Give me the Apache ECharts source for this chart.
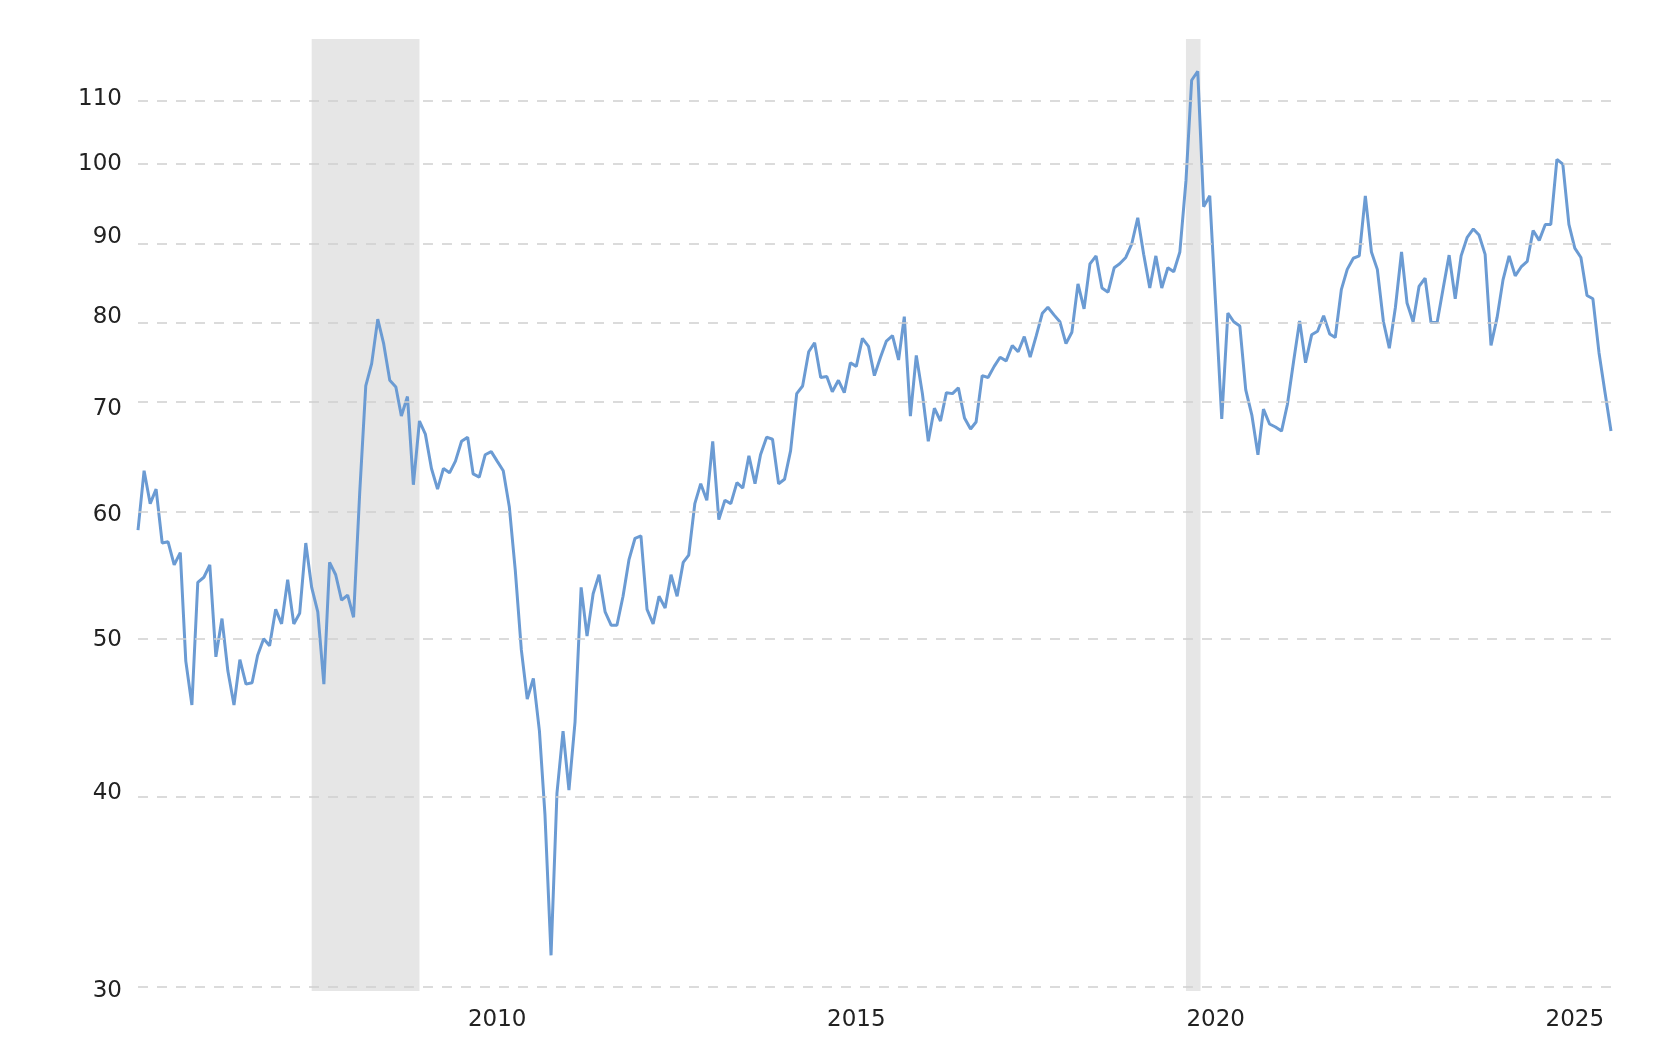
<!DOCTYPE html>
<html>
<head>
<meta charset="utf-8">
<script src="https://cdn.jsdelivr.net/npm/echarts@6/dist/echarts.min.js"></script>
<style>html,body{margin:0;padding:0;background:#fff}#chart{width:1660px;height:1042px}</style>
</head>
<body>
<div id="chart"></div>
<script>
// monthly values, first month Jul 2005
var startYear = 2005, startMonth = 7;
var values = [
	58.7,64,61,62.3,57.6,57.7,55.8,56.8,48.5,45.5,
	54.4,54.8,55.8,48.8,51.6,47.8,45.5,48.6,46.9,47,
	48.9,50.1,49.6,52.3,51.2,54.6,51.2,52,57.6,54,
	52.1,46.9,56,55,53,53.4,51.7,61.9,72.4,74.8,
	79.8,77,73,72.3,69.3,71.3,62.7,68.8,67.5,64.2,
	62.3,64.2,63.8,64.9,66.8,67.2,63.7,63.4,65.5,65.8,
	64.9,64,60.7,55.4,49.3,45.9,47.3,43.8,38.8,31.6,
	40,43.8,40.2,44.4,54,50.3,53.5,55,52.1,51.1,
	51.1,53.3,56.2,58,58.2,52.3,51.2,53.3,52.4,55,
	53.3,56,56.6,61,62.8,61.3,66.8,59.6,61.3,61,
	62.9,62.4,65.4,62.8,65.5,67.2,67,62.8,63.2,65.9,
	71.6,72.4,76.1,77.1,73.3,73.4,71.8,73,71.7,74.9,
	74.5,77.6,76.7,73.5,75.5,77.3,77.9,75.2,80.1,69.3,
	75.7,71.6,66.8,70.1,68.8,71.7,71.6,72.2,69.1,68,
	68.7,73.5,73.3,74.5,75.5,75.1,76.8,76.1,77.8,75.5,
	77.9,80.5,81.2,80.3,
	79.5,77,78.3,84,81,86.5,87.5,83.5,83,86,
	86.5,87.3,89,92.5,87.7,83.5,87.5,83.5,86,85.5,
	88,97.6,113,114.5,94,95.5,81.5,69,80.5,79.5,
	79,72,69.4,65.5,70,68.5,68.2,67.8,70.5,75,
	79.6,74.9,78,78.4,80.2,78.1,77.7,83.3,85.8,87.2,
	87.5,95.5,88,85.8,79.5,76.5,81.2,88,81.7,79.5,
	83.7,84.7,79.4,79.4,83.5,87.6,82.2,87.5,89.9,91,
	90.2,87.7,76.8,80,84.5,87.5,85,86.1,86.8,
	90.8,89.5,91.6,91.6,100.7,100,91.6,88.5,87.3,82.6,
	82.2,76,71.8,67.8
];
var yTicks = [30,40,50,60,70,80,90,100,110];
var xLabelYears = [2010,2015,2020,2025];
var recessions = [[2007,12,1,2009,6,1],[2020,2,1,2020,4,15]];

function monthDate(i){
	return Date.UTC(startYear, startMonth - 1 + i, 1);
}
var lineData = [];
for(var i=0;i<values.length;i++){
	lineData.push([monthDate(i), Math.log10(values[i])]);
}
var labelPos = xLabelYears.map(function(y){ return Date.UTC(y,6,1); });

var charts = echarts.init(document.getElementById("chart"));
var option = {
	animation:false,
	grid:{ left:138, right:49, top:39, bottom:51 },
	xAxis:{
		type:'value',
		min:monthDate(0),
		max:monthDate(values.length-1),
		axisLine:{show:false},
		axisTick:{show:false},
		splitLine:{show:false},
		axisLabel:{
			customValues:labelPos,
			formatter:function(v){ return new Date(v).getUTCFullYear(); },
			color:'#222',
			fontSize:23,
			fontFamily:'DejaVu Sans',
			margin:18
		}
	},
	yAxis:{
		type:'value',
		min:Math.log10(30),
		max:Math.log10(120),
		axisLine:{show:false},
		axisTick:{show:false},
		splitLine:{show:false},
		axisLabel:{
			customValues:yTicks.map(function(v){ return Math.log10(v); }),
			formatter:function(v){ return Math.round(Math.pow(10,v)); },
			color:'#222',
			fontSize:23,
			fontFamily:'DejaVu Sans',
			margin:16
		}
	},
	series:[{
		type:'line',
		data:lineData,
		showSymbol:false,
		lineStyle:{ color:'#6b9bd3', width:3 },
		markArea:{
			silent:true,
			itemStyle:{ color:'#e6e6e6' },
			data:recessions.map(function(r){
				return [{xAxis:Date.UTC(r[0],r[1]-1,r[2])},{xAxis:Date.UTC(r[3],r[4]-1,r[5])}];
			})
		},
		markLine:{
			silent:true,
			symbol:'none',
			label:{show:false},
			lineStyle:{ color:'#d0d0d0', type:[10,9], width:1.5 },
			data:yTicks.map(function(v){ return {yAxis:Math.log10(v)}; })
		},
		z:3
	}]
};
charts.setOption(option);
</script>
</body>
</html>
